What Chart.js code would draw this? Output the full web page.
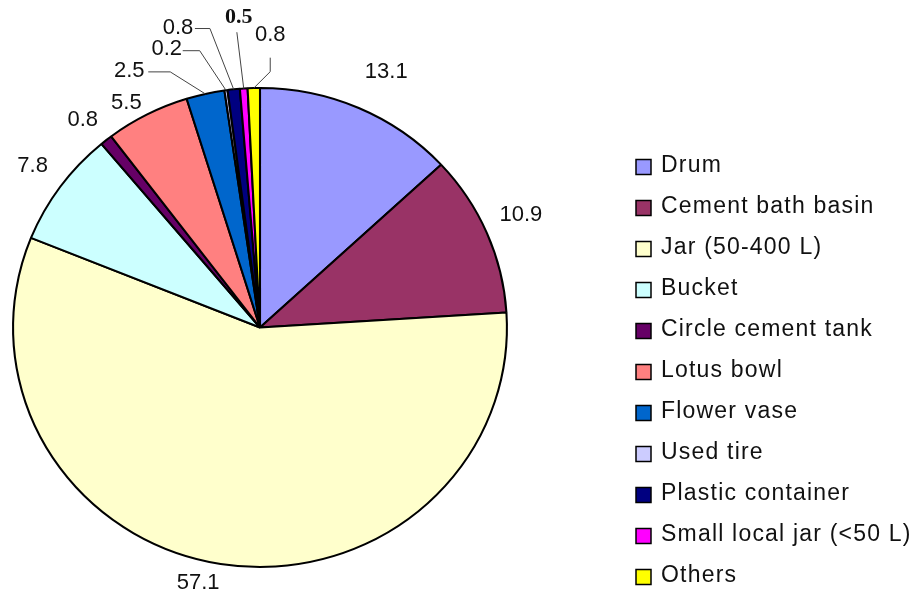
<!DOCTYPE html>
<html>
<head>
<meta charset="utf-8">
<script src="https://cdn.jsdelivr.net/npm/chart.js@4"></script>
<style>
  html, body { margin: 0; padding: 0; background: #fff; }
  #wrap { width: 920px; height: 604px; position: relative; }
</style>
</head>
<body>
<div id="wrap"><canvas id="pieChart" width="920" height="604"></canvas></div>
<script>
// Container types and their share (%)
const categories = ['Drum', 'Cement bath basin', 'Jar (50-400 L)', 'Bucket', 'Circle cement tank',
  'Lotus bowl', 'Flower vase', 'Used tire', 'Plastic container', 'Small local jar (<50 L)', 'Others'];
const shares = [13.1, 10.9, 57.1, 7.8, 0.8, 5.5, 2.5, 0.2, 0.8, 0.5, 0.8];
const valueLabels = ['13.1', '10.9', '57.1', '7.8', '0.8', '5.5', '2.5', '0.2', '0.8', '0.5', '0.8'];

const colors = ['#9999FF', '#993366', '#FFFFCC', '#CCFFFF', '#660066',
  '#FF8080', '#0066CC', '#CCCCFF', '#000080', '#FF00FF', '#FFFF00'];

// where each value label sits: angle (deg, clockwise from top) and distance from centre,
// plus an optional leader line (start / elbow relative to the text centre)
const labelPlace = [
  { a: 26.3, d: 285 },
  { a: 66.7, d: 284 },
  { a: 193.6, d: 263 },
  { a: 305.4, d: 279 },
  { a: 319.5, d: 273 },
  { a: 329.2, d: 261 },
  { a: 333.0, d: 288, lead: [[19, 1], [41, 1]] },
  { a: 341.5, d: 294, lead: [[16, 2], [33, 2]] },
  { a: 344.7, d: 311, lead: [[17, 1], [32, 1]] },
  { a: 356.1, d: 311, lead: [[-2, 15]], bold: true },
  { a: 2.0, d: 293, lead: [[0, 23], [0, 37]] }
];

const stretchX = 1.031; // the original pie is a touch wider than tall

const stretchPlugin = {
  id: 'stretch',
  beforeDatasetsDraw(chart) {
    const arc = chart.getDatasetMeta(0).data[0];
    const ctx = chart.ctx;
    ctx.save();
    ctx.translate(arc.x, arc.y);
    ctx.scale(stretchX, 1);
    ctx.translate(-arc.x, -arc.y);
  },
  afterDatasetsDraw(chart) {
    chart.ctx.restore();
  }
};

const labelPlugin = {
  id: 'valueLabels',
  afterDraw(chart) {
    const ctx = chart.ctx;
    const arcs = chart.getDatasetMeta(0).data;
    ctx.save();
    ctx.textAlign = 'center';
    ctx.textBaseline = 'middle';
    arcs.forEach((arc, i) => {
      const p = labelPlace[i];
      const rad = p.a * Math.PI / 180;
      const tx = arc.x + Math.sin(rad) * p.d;
      const ty = arc.y - Math.cos(rad) * p.d;
      if (p.lead) {
        const mid = (arc.startAngle + arc.endAngle) / 2;
        const ex = arc.x + Math.cos(mid) * arc.outerRadius * stretchX;
        const ey = arc.y + Math.sin(mid) * arc.outerRadius;
        ctx.strokeStyle = '#444';
        ctx.lineWidth = 1;
        ctx.beginPath();
        ctx.moveTo(tx + p.lead[0][0], ty + p.lead[0][1]);
        p.lead.slice(1).forEach(pt => ctx.lineTo(tx + pt[0], ty + pt[1]));
        ctx.lineTo(ex, ey);
        ctx.stroke();
      }
      ctx.fillStyle = '#111';
      ctx.font = p.bold ? 'bold 22px "Liberation Serif"' : '22px "Liberation Sans"';
      ctx.fillText(valueLabels[i], tx, ty);
    });
    ctx.restore();
  }
};

const legendPlugin = {
  id: 'sideLegend',
  afterDraw(chart) {
    const ctx = chart.ctx;
    const x0 = 636, y0 = 167, step = 41, box = 15;
    ctx.save();
    ctx.textAlign = 'left';
    ctx.textBaseline = 'middle';
    ctx.font = '23px "Liberation Sans"';
    ctx.letterSpacing = '1.2px';
    chart.data.labels.forEach((lab, i) => {
      const y = y0 + i * step;
      ctx.fillStyle = chart.data.datasets[0].backgroundColor[i];
      ctx.fillRect(x0, y - box / 2, box, box);
      ctx.strokeStyle = '#000';
      ctx.lineWidth = 1.5;
      ctx.strokeRect(x0, y - box / 2, box, box);
      ctx.fillStyle = '#111';
      ctx.fillText(lab, x0 + 25, y - 1);
    });
    ctx.restore();
  }
};

new Chart(document.getElementById('pieChart').getContext('2d'), {
  type: 'pie',
  data: {
    labels: categories,
    datasets: [{
      data: shares,
      backgroundColor: colors,
      borderColor: '#000',
      borderWidth: 2
    }]
  },
  options: {
    responsive: false,
    animation: false,
    layout: { padding: { top: 87, bottom: 36, left: 19, right: 419 } },
    plugins: {
      legend: { display: false },
      tooltip: { enabled: false }
    }
  },
  plugins: [stretchPlugin, labelPlugin, legendPlugin]
});
</script>
</body>
</html>
